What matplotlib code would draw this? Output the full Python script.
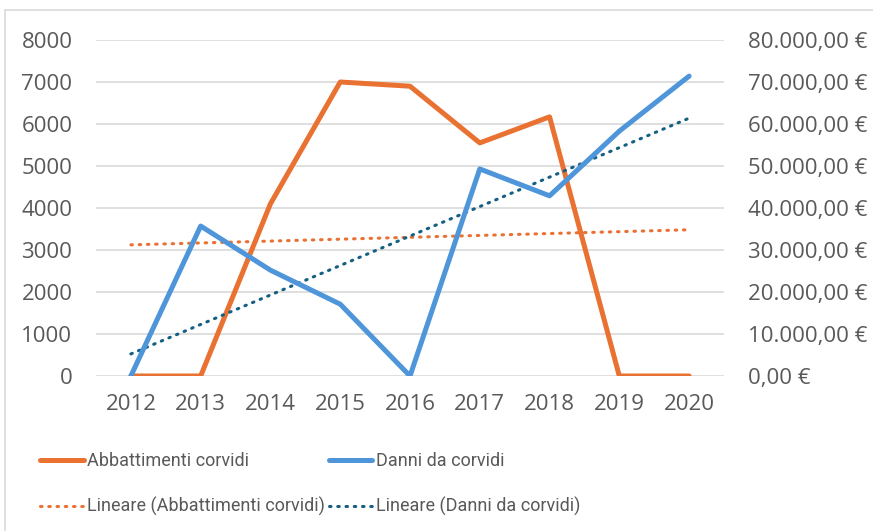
import matplotlib.pyplot as plt
import numpy as np
from matplotlib.patches import Rectangle
from matplotlib.ticker import FuncFormatter

years = [2012, 2013, 2014, 2015, 2016, 2017, 2018, 2019, 2020]
abbattimenti = [0, 0, 4100, 7000, 6900, 5550, 6170, 0, 0]
danni = [0, 35700, 25200, 17100, 0, 49300, 42900, 58300, 71400]

orange = '#E97132'
blue = '#4E95D9'
teal = '#156082'
grey_txt = '#595959'
grid_col = '#d9d9d9'

plt.rcParams['font.family'] = ['Open Sans', 'DejaVu Sans']

fig = plt.figure(figsize=(8.73, 5.31), dpi=100)
fig.patches.append(Rectangle((5 / 873, -0.1), 1.2, 1 - 10 / 531 + 0.1, transform=fig.transFigure,
                             fill=False, edgecolor=grid_col, linewidth=1.2))

ax = fig.add_axes([96 / 873, 1 - 376 / 531, 628 / 873, 336 / 531])
ax2 = ax.twinx()

x = np.arange(len(years))

# linear trendlines (least squares, like the spreadsheet)
pa = np.polyfit(x, abbattimenti, 1)
pd_ = np.polyfit(x, danni, 1)

l1, = ax.plot(x, abbattimenti, color=orange, lw=3.6, solid_capstyle='round', zorder=3)
t1, = ax.plot(x, np.polyval(pa, x), color=orange, lw=2.2, linestyle=(0, (0.5, 2.2)),
              dash_capstyle='round', zorder=2)
l2, = ax2.plot(x, danni, color=blue, lw=3.6, solid_capstyle='round', zorder=3)
t2, = ax2.plot(x, np.polyval(pd_, x), color=teal, lw=2.2, linestyle=(0, (0.5, 2.2)),
               dash_capstyle='round', zorder=2)

ax.set_xlim(-0.5, len(years) - 0.5)
ax.set_ylim(0, 8000)
ax2.set_ylim(0, 80000)
ax.set_yticks(range(0, 8001, 1000))
ax2.set_yticks(range(0, 80001, 10000))
ax.set_xticks(x)
ax.set_xticklabels([str(y) for y in years])


def euro(v, pos):
    s = f"{v:,.2f}".replace(',', 'X').replace('.', ',').replace('X', '.')
    return s + ' €'


ax2.yaxis.set_major_formatter(FuncFormatter(euro))

ax.grid(axis='y', color=grid_col, lw=1.2)
ax.set_axisbelow(True)
for a in (ax, ax2):
    for s in a.spines.values():
        s.set_visible(False)
    a.tick_params(length=0, labelsize=16, colors=grey_txt)
ax.tick_params(axis='y', pad=17)
ax2.tick_params(axis='y', pad=17)
ax.tick_params(axis='x', pad=13)
ax2.set_zorder(ax.get_zorder() + 1)
ax2.patch.set_visible(False)

# legend: column-wise fill, so order gives rows (lines) / (trends)
fig.legend([l1, t1, l2, t2],
           ['Abbattimenti corvidi', 'Lineare (Abbattimenti corvidi)',
            'Danni da corvidi', 'Lineare (Danni da corvidi)'],
           ncol=2, loc='center left', bbox_to_anchor=(24 / 873, 1 - 484 / 531),
           frameon=False, prop={'family': ['Roboto', 'DejaVu Sans'], 'size': 13},
           labelcolor=grey_txt, handlelength=2.4,
           handletextpad=0.2, columnspacing=0.2, labelspacing=1.5)

fig.savefig('out.png', dpi=100)
